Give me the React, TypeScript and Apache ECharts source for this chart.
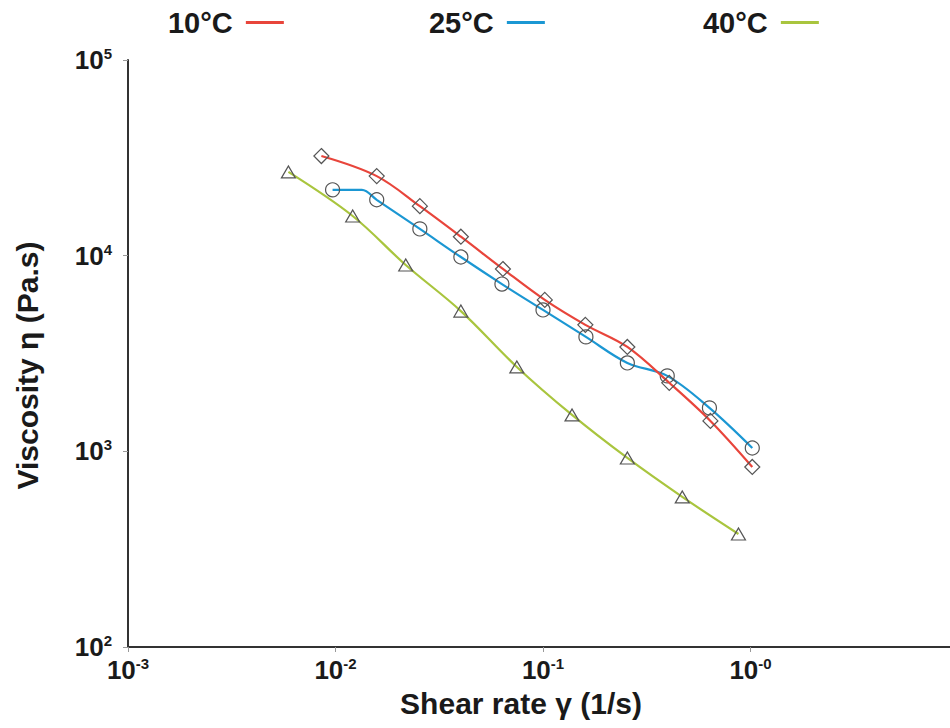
import React, { useEffect, useRef } from 'react';
import * as echarts from 'echarts';

const seriesNames = ['10°C', '25°C', '40°C'];
const seriesColors = ['#e8453b', '#1b97d3', '#a9c53e'];

// 10°C (diamonds)
const shearRate10 = [0.00855, 0.0158, 0.0255, 0.0402, 0.0641, 0.102, 0.16, 0.255, 0.406, 0.641, 1.02];
const viscosity10 = [32300, 25500, 17900, 12500, 8550, 5940, 4430, 3415, 2240, 1430, 832];

// 25°C (circles); second point is a line vertex without marker
const shearRate25 = [0.00968, 0.0134, 0.0158, 0.0255, 0.0402, 0.0634, 0.1, 0.161, 0.255, 0.397, 0.634, 1.02];
const viscosity25 = [21700, 21700, 19300, 13700, 9840, 7160, 5280, 3845, 2830, 2430, 1667, 1040];
const marker25 = [true, false, true, true, true, true, true, true, true, true, true, true];

// 40°C (triangles)
const shearRate40 = [0.00593, 0.0121, 0.0218, 0.0402, 0.0748, 0.138, 0.255, 0.469, 0.875];
const viscosity40 = [26800, 15950, 8960, 5210, 2700, 1535, 925, 585, 378];

const xTickValues = [0.001, 0.01, 0.1, 1];
const xTickSups = ['-3', '-2', '-1', '-0'];
const yTickValues = [100, 1000, 10000, 100000];
const yTickSups = ['2', '3', '4', '5'];

const FONT = '"Liberation Sans", Arial, Helvetica, sans-serif';
const TEXT_COLOR = '#1a1a1a';

function tickFormatter(values: number[], sups: string[]) {
  return (v: number) => {
    const idx = values.findIndex((t) => Math.abs(Math.log10(t) - Math.log10(v)) < 1e-6);
    if (idx < 0) return '';
    return `{b|10}{s|${sups[idx]}}`;
  };
}

const tickRich = {
  b: { fontFamily: FONT, fontWeight: 'bold', fontSize: 26, lineHeight: 28, color: TEXT_COLOR },
  s: { fontFamily: FONT, fontWeight: 'bold', fontSize: 15, lineHeight: 15, color: TEXT_COLOR, verticalAlign: 'top' },
};

export default function App() {
  const ref = useRef<HTMLDivElement>(null);

  useEffect(() => {
    if (!ref.current) return;
    const chart = echarts.init(ref.current, undefined, { renderer: 'svg' });

    const markerStyle = { color: 'transparent', borderColor: '#555', borderWidth: 1.2 };

    const legendLefts = [168, 429, 703];

    const option: any = {
      animation: false,
      backgroundColor: '#ffffff',
      grid: { left: 128, top: 60, right: 4, bottom: 81, containLabel: false },
      legend: seriesNames.map((name, i) => ({
        data: [name],
        left: legendLefts[i],
        top: 8,
        padding: 0,
        align: 'right',
        icon: 'rect',
        itemWidth: 38,
        itemHeight: 3,
        selectedMode: false,
        formatter: (n: string) => n + ' ',
        itemStyle: { color: seriesColors[i], borderWidth: 0, borderColor: 'transparent' },
        textStyle: { fontFamily: FONT, fontWeight: 'bold', fontSize: 29, color: TEXT_COLOR },
      })),
      xAxis: {
        type: 'log',
        logBase: 10,
        min: 0.001,
        max: 10,
        axisLine: { show: true, lineStyle: { color: '#333', width: 2 } },
        axisTick: { show: true, length: 5, lineStyle: { color: '#999', width: 1 } },
        splitLine: { show: false },
        axisLabel: { formatter: tickFormatter(xTickValues, xTickSups), rich: tickRich, margin: 9 },
        name: 'Shear rate γ (1/s)',
        nameLocation: 'middle',
        nameGap: 41,
        nameTextStyle: { fontFamily: FONT, fontWeight: 'bold', fontSize: 30, color: TEXT_COLOR, padding: [0, 44, 0, 0] },
      },
      yAxis: {
        type: 'log',
        logBase: 10,
        min: 100,
        max: 100000,
        axisLine: { show: true, lineStyle: { color: '#333', width: 2 } },
        axisTick: { show: true, length: 5, lineStyle: { color: '#999', width: 1 } },
        splitLine: { show: false },
        axisLabel: { formatter: tickFormatter(yTickValues, yTickSups), rich: tickRich, margin: 16 },
        name: 'Viscosity η (Pa.s)',
        nameLocation: 'middle',
        nameRotate: 90,
        nameGap: 86,
        nameTextStyle: { fontFamily: FONT, fontWeight: 'bold', fontSize: 30, color: TEXT_COLOR, padding: [0, 24, 0, 0] },
      },
      series: [
        {
          name: seriesNames[0],
          type: 'line',
          smooth: 0.35,
          symbol: 'diamond',
          symbolSize: [15, 15],
          itemStyle: markerStyle,
          lineStyle: { color: seriesColors[0], width: 2.2 },
          data: shearRate10.map((x, i) => [x, viscosity10[i]]),
          z: 3,
        },
        {
          name: seriesNames[1],
          type: 'line',
          smooth: 0.35,
          symbol: 'circle',
          symbolSize: 14,
          itemStyle: markerStyle,
          lineStyle: { color: seriesColors[1], width: 2.2 },
          data: shearRate25.map((x, i) =>
            marker25[i] ? { value: [x, viscosity25[i]] } : { value: [x, viscosity25[i]], symbol: 'none' }
          ),
          z: 2,
        },
        {
          name: seriesNames[2],
          type: 'line',
          smooth: 0.35,
          symbol: 'triangle',
          symbolSize: [14, 12],
          itemStyle: markerStyle,
          lineStyle: { color: seriesColors[2], width: 2.2 },
          data: shearRate40.map((x, i) => [x, viscosity40[i]]),
          z: 2,
        },
      ],
    };

    chart.setOption(option);
    return () => chart.dispose();
  }, []);

  return (
    <div
      ref={ref}
      style={{ position: 'fixed', left: 0, top: 0, width: 962, height: 728, background: '#fff' }}
    />
  );
}
